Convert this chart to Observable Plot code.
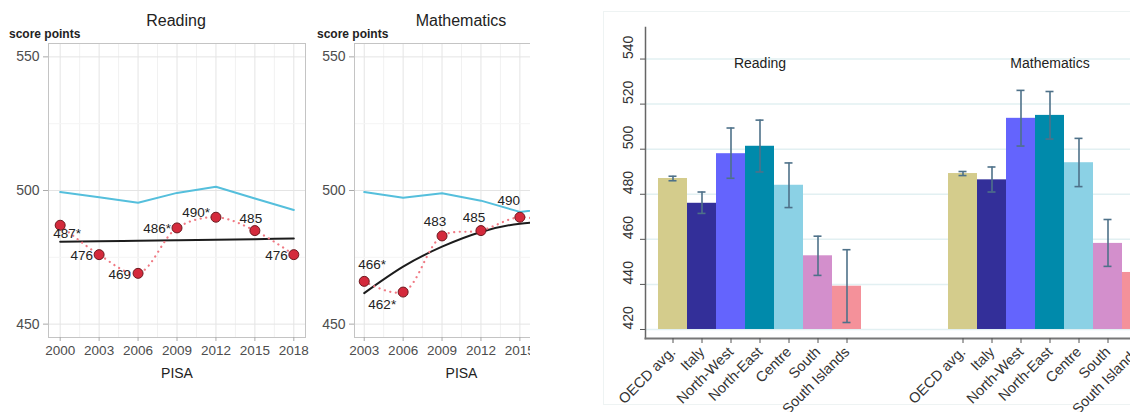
<!DOCTYPE html>
<html><head><meta charset="utf-8">
<script src="https://cdn.jsdelivr.net/npm/d3@7"></script>
<script src="https://cdn.jsdelivr.net/npm/@observablehq/plot@0.6"></script>
<style>
body{margin:0;background:#fff;font-family:"Liberation Sans",Arial,sans-serif;}
#root{position:relative;width:1130px;height:412px;overflow:hidden;background:#fff;}
.panel{position:absolute;top:0;height:412px;overflow:hidden;}
.panel svg{max-width:none !important;display:block;}
.ttl{position:absolute;top:12px;font-size:16px;color:#222;transform:translateX(-50%);white-space:nowrap;}
.sp{position:absolute;top:27px;font-size:12px;font-weight:bold;color:#222;white-space:nowrap;}
.box{position:absolute;left:603px;top:11px;width:600px;height:392px;border:1px solid #eef3f3;}
</style></head><body><div id="root"></div>
<script>
// ---------- data: line charts ----------
const readingYears = [2000, 2003, 2006, 2009, 2012, 2015, 2018];
const readingItaly = [487, 476, 469, 486, 490, 485, 476];
const readingLabels = ["487*", "476", "469", "486*", "490*", "485", "476"];
const readingOECD = [499.4, 497.5, 495.4, 499.1, 501.4, 497, 492.7];
const readingTrend = [480.8, 481.0, 481.2, 481.4, 481.6, 481.8, 482.0];

const mathYears = [2003, 2006, 2009, 2012, 2015, 2018];
const mathItaly = [466, 462, 483, 485, 490, 487];
const mathLabels = ["466*", "462*", "483", "485", "490", "487"];
const mathOECD = [499.4, 497.3, 499, 496.2, 492, 493.5];
const mathTrend = [461.6, 471.5, 479, 484.5, 487.6, 488.5];

const lineTicks = [450, 500, 550];

// ---------- data: bar chart ----------
const subjects = ["Reading", "Mathematics"];
const regions = ["OECD avg.", "Italy", "North-West", "North-East", "Centre", "South", "South Islands"];
const regionColors = ["#d4cc8c", "#332f99", "#6464fd", "#008aab", "#8bd1e5", "#d38fcc", "#f4919a"];
const readingMean = [487, 476, 498, 501.3, 484, 452.7, 439.2];
const readingLow  = [486, 471.5, 487.1, 489.9, 474.1, 444, 423.1];
const readingHigh = [488, 481, 509.4, 512.9, 493.9, 461.4, 455.4];
const mathMean = [489.2, 486.4, 513.7, 515, 494, 458.2, 445.3];
const mathLow  = [488.3, 481, 501.4, 504.5, 483.4, 448, 429];
const mathHigh = [490.1, 492.1, 526.1, 525.6, 504.8, 468.8, 461];
const barTicks = [420, 440, 460, 480, 500, 520, 540];

// ---------- rendering ----------
const FONT = "'Liberation Sans', Arial, sans-serif";
const root = document.getElementById("root");

function addDiv(cls, style, text) {
  const d = document.createElement("div");
  d.className = cls;
  Object.assign(d.style, style);
  if (text) d.textContent = text;
  root.appendChild(d);
  return d;
}

// label nudges for the point labels: [dx, dy, textAnchor]
const readingNudge = [[7, 8, "middle"], [-6, 1, "end"], [-7, 1, "end"], [-6, 1, "end"], [-6, -5, "end"], [-4, -12, "middle"], [-6, 1, "end"]];
const mathNudge = [[8, -17, "middle"], [-7, 13, "end"], [-7, -14, "middle"], [-7, -13, "middle"], [-11, -17, "middle"], [-7, -14, "middle"]];

function lineChart(yrs, italy, labels, oecd, trend, nudge, width, marginLeft, marginRight) {
  const rows = yrs.map((y, i) => ({year: y, italy: italy[i], label: labels[i], oecd: oecd[i], trend: trend[i]}));
  const span = yrs[yrs.length - 1] - yrs[0];
  const xDomain = [yrs[0] - span * 0.05, yrs[yrs.length - 1] + span * 0.05];
  const minorX = d3.range(yrs[0] + 1.5, yrs[yrs.length - 1], 3);
  const minorY = [475, 525];
  return Plot.plot({
    width, height: 412, marginTop: 43, marginBottom: 75, marginLeft, marginRight,
    style: {fontFamily: FONT, fontSize: "13px", color: "#4d4d4d", background: "transparent", overflow: "visible"},
    x: {domain: xDomain},
    y: {domain: [445, 555]},
    marks: [
      Plot.gridX(minorX, {stroke: "#f1f1f1", strokeOpacity: 1}),
      Plot.gridX(yrs, {stroke: "#e4e4e4", strokeOpacity: 1}),
      Plot.gridY(minorY, {stroke: "#f4f4f4", strokeOpacity: 1}),
      Plot.gridY(lineTicks, {stroke: "#e4e4e4", strokeOpacity: 1}),
      Plot.frame({stroke: "#c4c4c4"}),
      Plot.axisX({ticks: yrs, tickFormat: d => String(d), tickSize: 4, tickPadding: 4, stroke: "#aaa", label: null, fontSize: 13.5}),
      Plot.axisY({ticks: lineTicks, tickSize: 5, tickPadding: 4, stroke: "#aaa", label: null, fontSize: 14}),
      Plot.lineY(rows, {x: "year", y: "oecd", stroke: "#55bfdc", strokeWidth: 2}),
      Plot.lineY(rows, {x: "year", y: "trend", stroke: "#1c1c1c", strokeWidth: 2, curve: "natural"}),
      Plot.lineY(rows, {x: "year", y: "italy", stroke: "#f07a84", strokeWidth: 2.2, strokeDasharray: "0.1 5.5", strokeLinecap: "round", curve: "catmull-rom"}),
      Plot.dot(rows, {x: "year", y: "italy", r: 5, fill: "#d42a3c", stroke: "#6d1a20", strokeWidth: 1}),
      ...rows.map((r, i) => Plot.text([r], {x: "year", y: "italy", text: "label", dx: nudge[i][0], dy: nudge[i][1], textAnchor: nudge[i][2], fontSize: 13.5, fill: "#222"})),
      Plot.text(["PISA"], {frameAnchor: "bottom", dy: 40, text: d => d, fontSize: 14, fill: "#222"})
    ]
  });
}

// Reading line panel
const p1 = addDiv("panel", {left: "0px", width: "318px"});
p1.appendChild(lineChart(readingYears, readingItaly, readingLabels, readingOECD, readingTrend, readingNudge, 318, 48, 13));
addDiv("ttl", {left: "176px"}, subjects[0]);
addDiv("sp", {left: "9px"}, "score points");

// Mathematics line panel (cropped on the right, as in the reference)
const p2 = addDiv("panel", {left: "300px", width: "230px"});
p2.appendChild(lineChart(mathYears, mathItaly, mathLabels, mathOECD, mathTrend, mathNudge, 280, 54, 12));
addDiv("ttl", {left: "461px"}, subjects[1]);
addDiv("sp", {left: "317px"}, "score points");

// Bar chart
addDiv("box", {});
const barRows = subjects.flatMap((s, si) => regions.map((r, i) => ({
  key: s + "|" + r,
  mean: si ? mathMean[i] : readingMean[i],
  lo: si ? mathLow[i] : readingLow[i],
  hi: si ? mathHigh[i] : readingHigh[i],
  color: regionColors[i]
})));
const gapKeys = ["gap1", "gap2", "gap3"];
const keysR = regions.map(r => subjects[0] + "|" + r);
const keysM = regions.map(r => subjects[1] + "|" + r);
const errColor = "#4e7189";

const bars = Plot.plot({
  width: 563, height: 412, marginTop: 27, marginBottom: 74, marginLeft: 45, marginRight: 0,
  style: {fontFamily: FONT, fontSize: "13px", color: "#333", background: "transparent", overflow: "visible"},
  x: {type: "band", domain: [...keysR, ...gapKeys, ...keysM], padding: 0, insetLeft: 9, insetRight: 9},
  y: {domain: [416, 554]},
  color: {type: "identity"},
  marks: [
    Plot.gridY(barTicks, {stroke: "#e2f0f2", strokeOpacity: 1, strokeWidth: 1.5}),
    Plot.barY(barRows, {x: "key", y1: barTicks[0], y2: "mean", fill: "color"}),
    Plot.ruleX(barRows, {x: "key", y1: "lo", y2: "hi", stroke: errColor, strokeWidth: 1.6}),
    Plot.tickY(barRows, {x: "key", y: "lo", stroke: errColor, strokeWidth: 1.6, insetLeft: 10.5, insetRight: 10.5}),
    Plot.tickY(barRows, {x: "key", y: "hi", stroke: errColor, strokeWidth: 1.6, insetLeft: 10.5, insetRight: 10.5}),
    Plot.frame({anchor: "left", stroke: "#666", strokeWidth: 1.5}),
    Plot.frame({anchor: "bottom", stroke: "#777", strokeWidth: 2}),
    Plot.axisY({ticks: barTicks, tickSize: 5, tickFormat: () => "", stroke: "#555", label: null}),
    Plot.text(barTicks, {y: d => d, frameAnchor: "left", dx: -17, rotate: -90, text: d => String(d), fontSize: 14, fill: "#333"}),
    Plot.axisX({ticks: [...keysR, ...keysM], tickRotate: -45, tickSize: 5, tickPadding: 6, stroke: "#555", tickFormat: k => k.split("|")[1], label: null, fontSize: 14.5, fill: "#333"}),
    Plot.text(subjects, {x: s => s + "|" + regions[3], frameAnchor: "top", dy: 31, text: d => d, fontSize: 14, fill: "#222"})
  ]
});
const p3 = addDiv("panel", {left: "600px", width: "530px"});
p3.appendChild(bars);
</script>
</body></html>
